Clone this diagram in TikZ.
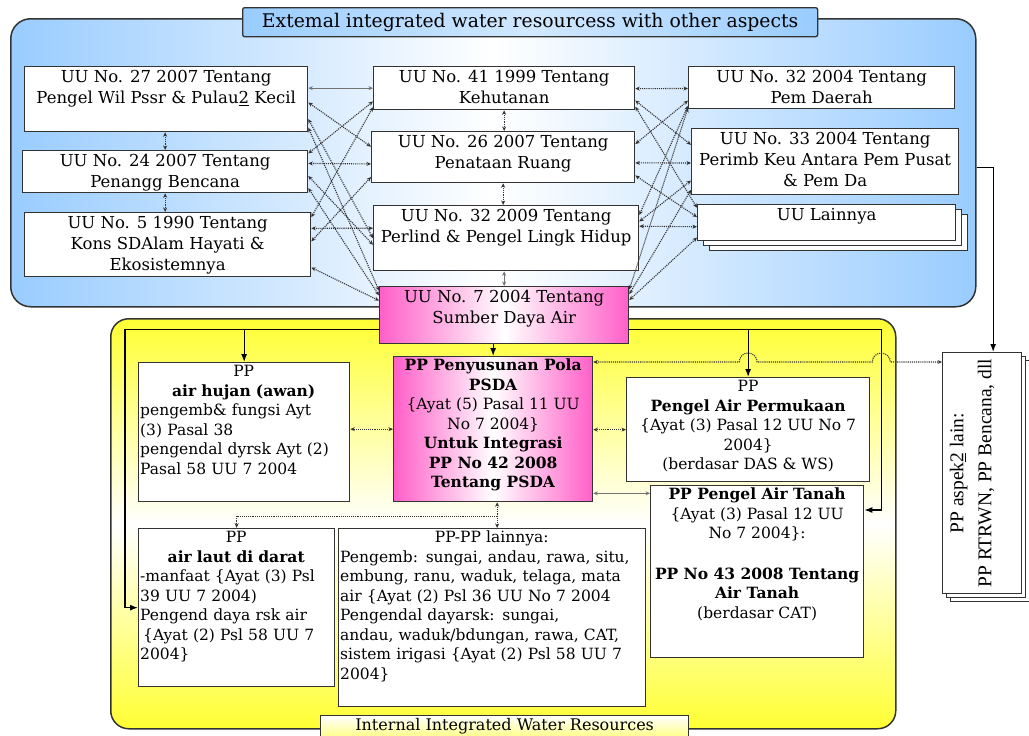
\documentclass[tikz,border=0pt]{standalone}
\usepackage{fontspec}
\setmainfont{DejaVu Serif}
\newfontfamily\timesfont{Liberation Serif}
\usetikzlibrary{arrows.meta,calc,shadows}
\setlength{\parindent}{0pt}

\definecolor{skyblue}{HTML}{99CCFF}
\definecolor{hotpink}{HTML}{FF5FC8}
\definecolor{lemon}{HTML}{FFFF33}
\definecolor{edge}{HTML}{333333}

\tikzset{
  group/.style={draw=edge, line width=1.5pt, inner sep=0pt, anchor=north west},
  uubox/.style={draw=edge, line width=1.3pt, fill=white, inner sep=0pt, anchor=north west},
  pinkbox/.style={uubox, left color=hotpink, right color=hotpink, middle color=white},
  stack/.style={double copy shadow={shadow xshift=6pt, shadow yshift=-5pt}},
  uutext/.style={anchor=north, align=center, inner xsep=2pt, inner ysep=4pt, font=\fontsize{16.5}{21}\selectfont},
  pptext/.style={anchor=north, align=center, inner xsep=2pt, inner ysep=3pt, font=\fontsize{15.5}{19.5}\selectfont},
  ppleft/.style={anchor=north west, align=left, inner xsep=2pt, inner ysep=3pt, font=\fontsize{15.5}{19.5}\selectfont},
  dlink/.style={densely dotted, line width=1.1pt, draw=black!80, {Stealth[length=4.5pt,width=4pt]}-{Stealth[length=4.5pt,width=4pt]}},
  dfeed/.style={densely dotted, line width=1.1pt, draw=black!80, -{Stealth[length=5pt,width=4pt]}},
  slink/.style={line width=1.1pt, draw=black!55, {Stealth[length=4.5pt,width=4pt]}-{Stealth[length=4.5pt,width=4pt]}},
  feed/.style={line width=1.2pt, draw=black, -{Latex[length=8pt,width=6pt]}},
}

\begin{document}
\begin{tikzpicture}[x=1pt, y=-1pt]
\useasboundingbox (0,0) rectangle (1029,736);

% the two big blocks
\node[group, rounded corners=20pt, left color=skyblue, right color=skyblue, middle color=white,
      minimum width=965pt, minimum height=288pt] (ext) at (10,18) {};
\node[group, line width=1.3pt, rounded corners=2pt, left color=skyblue, right color=skyblue, middle color=skyblue!45,
      minimum width=575pt, minimum height=29pt, font=\fontsize{18.8}{20}\selectfont] (extlab) at (242,7)
      {Extemal integrated water resourcess with other aspects};
\node[group, rounded corners=18pt, top color=lemon, bottom color=lemon, middle color=white,
      minimum width=785pt, minimum height=410pt] (intern) at (110,318) {};

% UU, left column
\node[uubox, minimum width=283pt, minimum height=65pt] (uu27) at (24,66) {};
\node[uutext] (uu27t) at (uu27.north) {UU No. 27 2007 Tentang\\Pengel Wil Pssr \& Pulau\underline{2} Kecil};
\node[uubox, minimum width=285pt, minimum height=42pt] (uu24) at (22,150) {};
\node[uutext] (uu24t) at (uu24.north) {UU No. 24 2007 Tentang\\Penangg Bencana};
\node[uubox, minimum width=286pt, minimum height=64pt] (uu5) at (24,212) {};
\node[uutext] (uu5t) at (uu5.north) {UU No. 5 1990 Tentang\\Kons SDAlam Hayati \&\\Ekosistemnya};

% UU, middle column
\node[uubox, minimum width=261pt, minimum height=43pt] (uu41) at (373,66) {};
\node[uutext] (uu41t) at (uu41.north) {UU No. 41 1999 Tentang\\Kehutanan};
\node[uubox, minimum width=263pt, minimum height=51pt] (uu26) at (371,131) {};
\node[uutext] (uu26t) at (uu26.north) {UU No. 26 2007 Tentang\\Penataan Ruang};
\node[uubox, minimum width=265pt, minimum height=65pt] (uu32b) at (373,205) {};
\node[uutext] (uu32bt) at (uu32b.north) {UU No. 32 2009 Tentang\\Perlind \& Pengel Lingk Hidup};
\node[pinkbox, minimum width=249pt, minimum height=57pt] (uu7) at (379,286) {};
\node[uutext] (uu7t) at (uu7.north) {UU No. 7 2004 Tentang\\Sumber Daya Air};

% UU, right column
\node[uubox, minimum width=266pt, minimum height=42pt] (uu32r) at (688,66) {};
\node[uutext] (uu32rt) at (uu32r.north) {UU No. 32 2004 Tentang\\Pem Daerah};
\node[uubox, minimum width=267pt, minimum height=66pt] (uu33) at (691,128) {};
\node[uutext] (uu33t) at (uu33.north) {UU No. 33 2004 Tentang\\Perimb Keu Antara Pem Pusat\\\& Pem Da};
\node[uubox, stack, minimum width=258pt, minimum height=36pt] (uulain) at (697,204) {};
\node[uutext] (uulaint) at (uulain.north) {UU Lainnya};

% links between the UU
\foreach \src/\fs/\dst/\fd in {uu27/0.55/uu26/0.30, uu27/0.80/uu32b/0.50, uu27/0.93/uu7/0.08,
    uu24/0.08/uu41/0.80, uu24/0.31/uu26/0.63, uu24/0.60/uu32b/0.60, uu24/0.88/uu7/0.16,
    uu5/0.08/uu41/0.93, uu5/0.45/uu26/0.88, uu5/0.25/uu32b/0.35, uu5/0.85/uu7/0.25}
  \draw[dlink] ($(\src.north east)!\fs!(\src.south east)$) -- ($(\dst.north west)!\fd!(\dst.south west)$);
\foreach \src/\fs/\dst/\fd in {uu32r/0.52/uu41/0.51, uu32r/0.80/uu26/0.25, uu32r/0.92/uu32b/0.15, uu32r/0.97/uu7/0.06,
    uu33/0.25/uu41/0.78, uu33/0.52/uu26/0.61, uu33/0.78/uu32b/0.25, uu33/0.92/uu7/0.14,
    uulain/0.10/uu41/0.92, uulain/0.35/uu26/0.85, uulain/0.61/uu32b/0.32, uulain/0.90/uu7/0.24}
  \draw[dlink] ($(\src.north west)!\fs!(\src.south west)$) -- ($(\dst.north east)!\fd!(\dst.south east)$);
\draw[slink] (uu41.west) -- (uu41.west -| uu27.east);
\draw[dlink] (uu27.south -| uu24.north) -- (uu24.north);
\draw[dlink] (uu24.south) -- (uu24.south |- uu5.north);
\draw[dlink] (uu41.south) -- (uu41.south |- uu26.north);
\draw[dlink] (uu26.south) -- (uu26.south |- uu32b.north);
\draw[slink] (uu7.north) -- (uu7.north |- uu32b.south);

% PP boxes
\node[uubox, minimum width=211pt, minimum height=139pt] (ppair) at (138,362) {};
\node[ppleft, text width=207pt] (ppairt) at (ppair.north west)
  {{\centering PP\\\textbf{air hujan (awan)}\par}pengemb\& fungsi Ayt\\(3) Pasal 38\\pengendal dyrsk Ayt (2)\\Pasal 58 UU 7 2004};
\node[pinkbox, minimum width=199pt, minimum height=145pt] (ppsda) at (393,356) {};
\node[pptext] (ppsdat) at (ppsda.north)
  {\textbf{PP Penyusunan Pola}\\\textbf{PSDA}\\\{Ayat (5) Pasal 11 UU\\No 7 2004\}\\\textbf{Untuk Integrasi}\\\textbf{PP No 42 2008}\\\textbf{Tentang PSDA}};
\node[uubox, minimum width=243pt, minimum height=104pt] (ppperm) at (626,377) {};
\node[pptext] (pppermt) at (ppperm.north)
  {PP\\\textbf{Pengel Air Permukaan}\\\{Ayat (3) Pasal 12 UU No 7\\2004\}\\(berdasar DAS \& WS)};
\node[uubox, minimum width=213pt, minimum height=172pt] (pptanah) at (650,485) {};
\node[pptext] (pptanaht) at (pptanah.north)
  {\textbf{PP Pengel Air Tanah}\\\{Ayat (3) Pasal 12 UU\\No 7 2004\}:\\[21pt]\textbf{PP No 43 2008 Tentang}\\\textbf{Air Tanah}\\(berdasar CAT)};
\node[uubox, minimum width=196pt, minimum height=158pt] (pplaut) at (138,528) {};
\node[ppleft, text width=192pt] (pplautt) at (pplaut.north west)
  {{\centering PP\\\textbf{air laut di darat}\par}-manfaat \{Ayat (3) Psl\\39 UU 7 2004)\\Pengend daya rsk air\\\hspace*{3pt}\{Ayat (2) Psl 58 UU 7\\2004\}};
\node[uubox, minimum width=307pt, minimum height=178pt] (pplain) at (338,528) {};
\node[ppleft, text width=303pt] (pplaint) at (pplain.north west)
  {{\centering PP-PP lainnya:\par}Pengemb: sungai, andau, rawa, situ,\\embung, ranu, waduk, telaga, mata\\air \{Ayat (2) Psl 36 UU No 7 2004\\Pengendal dayarsk: sungai,\\andau, waduk/bdungan, rawa, CAT,\\sistem irigasi \{Ayat (2) Psl 58 UU 7\\2004\}};
\node[uubox, double copy shadow={shadow xshift=4pt, shadow yshift=-4pt}, minimum width=79pt, minimum height=241pt] (aspek) at (942,352) {};
\node[rotate=90, align=center, inner sep=0pt, font=\timesfont\fontsize{19.5}{28}\selectfont] (aspekt) at ([xshift=-10pt]aspek.center)
  {PP aspek\underline{2} lain:\\PP RTRWN, PP Bencana, dll};

% flows out of UU 7 2004
\draw[feed] ([yshift=-14pt]uu7.west) -| ([xshift=-13pt]pplaut.west) -- (pplaut.west);
\draw[feed] ([yshift=-14pt]uu7.west -| ppair.north) -- (ppair.north);
\draw[feed] ([yshift=-14pt]uu7.east) -| ([xshift=17pt,yshift=-25pt]pptanah.north east) -- ([yshift=-25pt]pptanah.north east);
\draw[feed] ([yshift=-14pt]uu7.east -| ppperm.north) -- (ppperm.north);
\draw[feed] (ppsda.north |- uu7.south) -- (ppsda.north);
\draw[feed] ([yshift=-6pt]uu33.east -| ext.east) -| ([xshift=11pt]aspek.north);

% links between the PP
\draw[dlink] (ppsda.west) -- (ppsda.west -| ppair.east);
\draw[dlink] (ppperm.west) -- (ppperm.west -| ppsda.east);
\draw[slink] ([yshift=9pt]ppsda.south east) -- ([yshift=9pt]ppsda.south east -| pptanah.west);
\draw[dlink] ([xshift=4pt]ppsda.south) -- ([xshift=4pt]ppsda.south |- pplain.north);
\draw[dfeed] ([xshift=4pt,yshift=-14pt]ppsda.south) -| (pplaut.north);
\coordinate (hop) at ([yshift=-6pt]ppsda.north east);
\coordinate (busr) at ([xshift=17pt]pptanah.north east);
\draw[dlink] (hop) -- ($(hop -| ppperm.north)+(-9,0)$) arc[start angle=180, end angle=0, radius=9pt]
  -- ($(hop -| busr)+(-9,0)$) arc[start angle=180, end angle=0, radius=9pt] -- (hop -| aspek.west);

\node[group, line width=1.3pt, top color=white, bottom color=lemon!60, minimum width=368pt, minimum height=22pt,
      font=\fontsize{16}{18}\selectfont] (intlab) at (320,715) {Internal Integrated Water Resources};
\end{tikzpicture}
\end{document}
